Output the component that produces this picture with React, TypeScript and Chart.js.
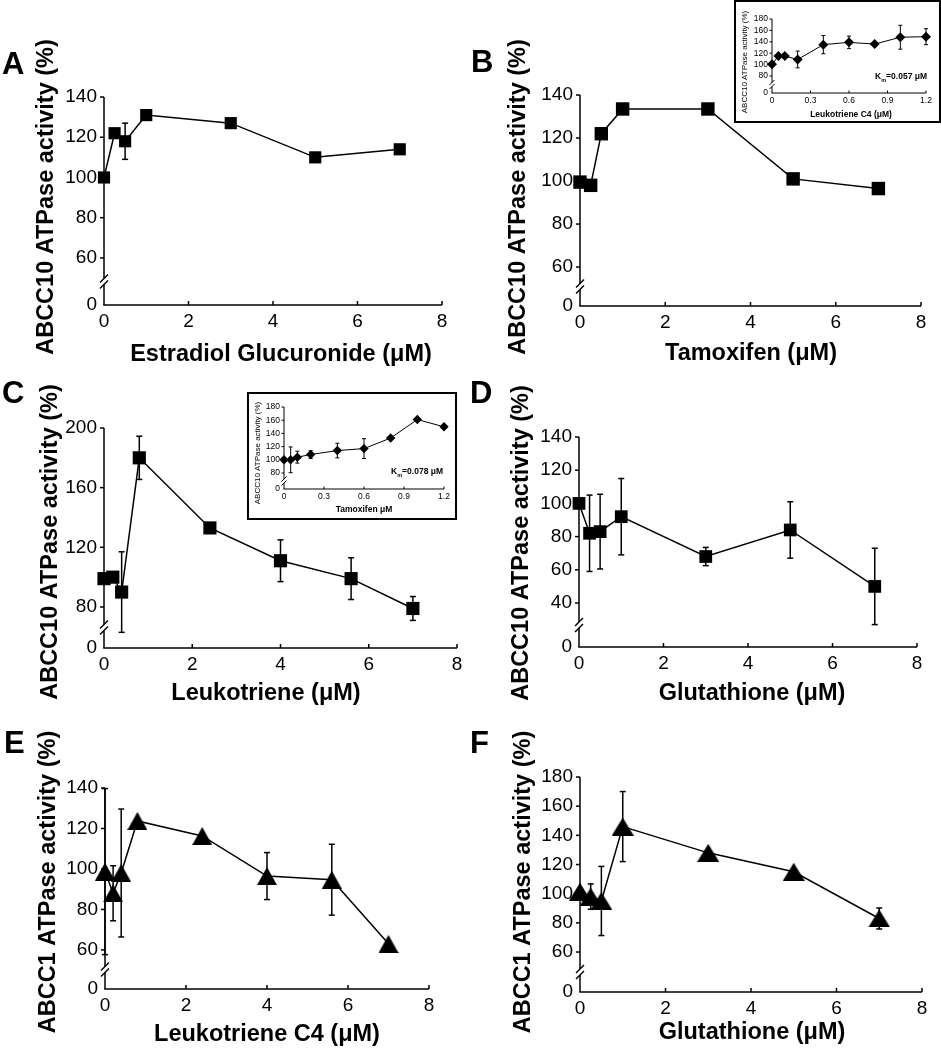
import React, { useEffect, useRef } from 'react';
import { Chart, registerables } from 'chart.js';

Chart.register(...registerables);

const FONT = '"Liberation Sans", Arial, Helvetica, sans-serif';

// ---------------- data ----------------
// A: ABCC10, estradiol glucuronide
const estradiolConc = [0, 0.25, 0.5, 1, 3, 5, 7];
const estradiolActivity = [100, 122, 118, 131, 127, 110, 114];
const estradiolErr = [0, 0, 9, 0, 0, 0, 0];

// B: ABCC10, tamoxifen
const tamoxifenConc = [0, 0.25, 0.5, 1, 3, 5, 7];
const tamoxifenActivity = [99.5, 98, 122, 133.5, 133.5, 101, 96.5];
const tamoxifenErr = [0, 0, 0, 0, 0, 0, 0];

// C: ABCC10, leukotriene
const leukotrieneConc = [0, 0.2, 0.4, 0.8, 2.4, 4, 5.6, 7];
const leukotrieneActivity = [99, 100, 90, 180, 133, 111, 99, 79];
const leukotrieneErr = [0, 0, 27, 14.5, 0, 14, 14, 8];

// D: ABCC10, glutathione
const glutathioneConc = [0, 0.25, 0.5, 1, 3, 5, 7];
const glutathioneActivity = [100, 82, 83, 92, 68, 84, 50];
const glutathioneErr = [0, 23, 22.5, 23, 5.5, 17, 23];

// E: ABCC1, leukotriene C4
const ltc4Conc = [0, 0.2, 0.4, 0.8, 2.4, 4, 5.6, 7];
const ltc4Activity = [98.7, 88, 98, 123.7, 116.3, 96.5, 94.7, 63];
const ltc4Err = [41, 13.6, 31.6, 0, 0, 11.6, 17.5, 0];

// F: ABCC1, glutathione
const gshConc = [0, 0.25, 0.5, 1, 3, 5, 7];
const gshActivity = [101.4, 98, 95, 146, 128, 115, 83];
const gshErr = [0, 8.7, 23.7, 24, 0, 0, 7.2];

// Inset in B: ABCC10, leukotriene C4 (low range)
const insetLtc4Conc = [0, 0.05, 0.1, 0.2, 0.4, 0.6, 0.8, 1.0, 1.2];
const insetLtc4Activity = [100.5, 115, 115, 109, 135, 139, 136, 148, 149];
const insetLtc4Err = [0, 0, 0, 14.7, 16, 11, 3, 21, 14];

// Inset in C: ABCC10, tamoxifen (low range)
const insetTamConc = [0, 0.05, 0.1, 0.2, 0.4, 0.6, 0.8, 1.0, 1.2];
const insetTamActivity = [100, 100, 104, 108, 114, 117, 133, 161, 150];
const insetTamErr = [0, 19.5, 9, 6, 11, 15, 0, 0, 0];

// tick values
const mainXTicks = [0, 2, 4, 6, 8];
const insetXTicks = [0, 0.3, 0.6, 0.9, 1.2];
const yTicks60to140 = [60, 80, 100, 120, 140];
const yTicks80to200 = [80, 120, 160, 200];
const yTicks40to140 = [40, 60, 80, 100, 120, 140];
const yTicks60to180 = [60, 80, 100, 120, 140, 160, 180];
const yTicks80to180 = [80, 100, 120, 140, 160, 180];

// ---------------- layout / style ----------------
type Box = { x: number; y: number; w: number; h: number };
type Area = { l: number; t: number; r: number; b: number };
type Txt = { text: string; x: number; y: number };
type Style = {
  tick: number; title: number; yTitle: number; yTitleBold: boolean; line: number; axis: number;
  tickLen: number; cap: number; brkW: number; brkH: number; brkGap: number; yPad: number; xPad: number;
};

const MAIN: Style = { tick: 19, title: 23.5, yTitle: 23.5, yTitleBold: true, line: 1.5, axis: 1.5, tickLen: 4, cap: 3, brkW: 4, brkH: 4, brkGap: 3, yPad: 7, xPad: 5 };
const INSET: Style = { tick: 8.5, title: 8.5, yTitle: 8, yTitleBold: false, line: 1, axis: 1, tickLen: 2.5, cap: 2, brkW: 2.5, brkH: 2.5, brkGap: 2, yPad: 4, xPad: 3 };

type Marker = { kind: 'rect' | 'rectRot' | 'tri'; r: number; w?: number; h?: number };
type Spec = {
  id: string; box: Box; area: Area; style: Style; inset?: boolean;
  xs: number[]; ys: number[]; es: number[];
  xTicks: number[]; yTicks: number[]; yMin: number; marker: Marker;
  letter?: Txt; yTitle: Txt; xTitle: Txt; km?: Txt;
};

const YT10 = 'ABCC10 ATPase activity (%)';
const YT1 = 'ABCC1 ATPase activity (%)';

const PANELS: Spec[] = [
  { id: 'A', box: { x: 0, y: 30, w: 470, h: 342 }, area: { l: 104, t: 97, r: 442, b: 305 }, style: MAIN,
    xs: estradiolConc, ys: estradiolActivity, es: estradiolErr, xTicks: mainXTicks, yTicks: yTicks60to140, yMin: 36.6,
    marker: { kind: 'rect', r: 8.6 }, letter: { text: 'A', x: 2, y: 74 },
    yTitle: { text: YT10, x: 53, y: 197 }, xTitle: { text: 'Estradiol Glucuronide (μM)', x: 281, y: 361 } },
  { id: 'B', box: { x: 470, y: 30, w: 471, h: 342 }, area: { l: 580, t: 95, r: 921, b: 306 }, style: MAIN,
    xs: tamoxifenConc, ys: tamoxifenActivity, es: tamoxifenErr, xTicks: mainXTicks, yTicks: yTicks60to140, yMin: 41.9,
    marker: { kind: 'rect', r: 9.5 }, letter: { text: 'B', x: 471, y: 72 },
    yTitle: { text: YT10, x: 525, y: 197 }, xTitle: { text: 'Tamoxifen (μM)', x: 751, y: 360 } },
  { id: 'C', box: { x: 0, y: 372, w: 470, h: 343 }, area: { l: 104, t: 428, r: 457, b: 648 }, style: MAIN,
    xs: leukotrieneConc, ys: leukotrieneActivity, es: leukotrieneErr, xTicks: mainXTicks, yTicks: yTicks80to200, yMin: 52.5,
    marker: { kind: 'rect', r: 9.3 }, letter: { text: 'C', x: 2, y: 403 },
    yTitle: { text: YT10, x: 57, y: 542 }, xTitle: { text: 'Leukotriene (μM)', x: 266, y: 700 } },
  { id: 'D', box: { x: 470, y: 372, w: 471, h: 343 }, area: { l: 579, t: 437, r: 917, b: 647 }, style: MAIN,
    xs: glutathioneConc, ys: glutathioneActivity, es: glutathioneErr, xTicks: mainXTicks, yTicks: yTicks40to140, yMin: 13.5,
    marker: { kind: 'rect', r: 9 }, letter: { text: 'D', x: 470, y: 403 },
    yTitle: { text: YT10, x: 528, y: 543 }, xTitle: { text: 'Glutathione (μM)', x: 752, y: 700 } },
  { id: 'E', box: { x: 0, y: 715, w: 470, h: 335 }, area: { l: 105, t: 788, r: 429, b: 989 }, style: MAIN,
    xs: ltc4Conc, ys: ltc4Activity, es: ltc4Err, xTicks: mainXTicks, yTicks: yTicks60to140, yMin: 40.7,
    marker: { kind: 'tri', r: 10, w: 20, h: 18 }, letter: { text: 'E', x: 4, y: 753 },
    yTitle: { text: YT1, x: 55, y: 882 }, xTitle: { text: 'Leukotriene C4 (μM)', x: 267, y: 1041 } },
  { id: 'F', box: { x: 470, y: 715, w: 471, h: 335 }, area: { l: 580, t: 777, r: 922, b: 992 }, style: MAIN,
    xs: gshConc, ys: gshActivity, es: gshErr, xTicks: mainXTicks, yTicks: yTicks60to180, yMin: 32.6,
    marker: { kind: 'tri', r: 11, w: 22, h: 18 }, letter: { text: 'F', x: 470, y: 753 },
    yTitle: { text: YT1, x: 530, y: 882 }, xTitle: { text: 'Glutathione (μM)', x: 752, y: 1039 } },
  { id: 'iB', inset: true, box: { x: 736, y: 2, w: 203, h: 119 }, area: { l: 772, t: 19, r: 926, b: 93 }, style: INSET,
    xs: insetLtc4Conc, ys: insetLtc4Activity, es: insetLtc4Err, xTicks: insetXTicks, yTicks: yTicks80to180, yMin: 50.2,
    marker: { kind: 'rectRot', r: 5 },
    yTitle: { text: YT10, x: 747, y: 62 }, xTitle: { text: 'Leukotriene C4 (μM)', x: 851, y: 117 },
    km: { text: '0.057 μM', x: 927, y: 79 } },
  { id: 'iC', inset: true, box: { x: 249, y: 394, w: 206, h: 124 }, area: { l: 284, t: 407, r: 444, b: 489 }, style: INSET,
    xs: insetTamConc, ys: insetTamActivity, es: insetTamErr, xTicks: insetXTicks, yTicks: yTicks80to180, yMin: 55.8,
    marker: { kind: 'rectRot', r: 4.7 },
    yTitle: { text: YT10, x: 260, y: 453 }, xTitle: { text: 'Tamoxifen μM', x: 364, y: 512 },
    km: { text: '0.078 μM', x: 443, y: 474 } },
];

function triangleImage(w: number, h: number): HTMLCanvasElement {
  const c = document.createElement('canvas');
  c.width = w;
  c.height = h;
  const g = c.getContext('2d')!;
  g.fillStyle = '#000';
  g.beginPath();
  g.moveTo(w / 2, 0);
  g.lineTo(w, h);
  g.lineTo(0, h);
  g.closePath();
  g.fill();
  return c;
}

function seg(ctx: CanvasRenderingContext2D, x1: number, y1: number, x2: number, y2: number) {
  ctx.beginPath();
  ctx.moveTo(x1, y1);
  ctx.lineTo(x2, y2);
  ctx.stroke();
}

function makeDecor(s: Spec) {
  const st = s.style;
  const ox = s.box.x;
  const oy = s.box.y;
  return {
    id: 'decor' + s.id,
    beforeDatasetsDraw(chart: any) {
      const ctx: CanvasRenderingContext2D = chart.ctx;
      const xsc = chart.scales.x;
      const ysc = chart.scales.y;
      ctx.save();
      ctx.strokeStyle = '#000';
      ctx.lineWidth = st.line;
      s.xs.forEach((xv, i) => {
        const e = s.es[i];
        if (!e) return;
        const px = xsc.getPixelForValue(xv);
        const pTop = ysc.getPixelForValue(s.ys[i] + e);
        const pBot = ysc.getPixelForValue(s.ys[i] - e);
        seg(ctx, px, pTop, px, pBot);
        seg(ctx, px - st.cap, pTop, px + st.cap, pTop);
        seg(ctx, px - st.cap, pBot, px + st.cap, pBot);
      });
      ctx.restore();
    },
    afterDraw(chart: any) {
      const ctx: CanvasRenderingContext2D = chart.ctx;
      const { left, right, top, bottom } = chart.chartArea;
      const xsc = chart.scales.x;
      const ysc = chart.scales.y;
      ctx.save();
      ctx.strokeStyle = '#000';
      ctx.lineWidth = st.axis;
      // axes
      seg(ctx, left - st.axis / 2, bottom, right, bottom);
      const yb = (bottom + ysc.getPixelForValue(s.yTicks[0])) / 2;
      seg(ctx, left, top, left, yb - st.brkGap);
      seg(ctx, left, yb + st.brkGap, left, bottom);
      for (const d of [-st.brkGap, st.brkGap]) {
        seg(ctx, left - st.brkW, yb + d + st.brkH, left + st.brkW, yb + d - st.brkH);
      }
      s.yTicks.forEach((v) => {
        const p = ysc.getPixelForValue(v);
        seg(ctx, left - st.tickLen, p, left, p);
      });
      s.xTicks.forEach((v) => {
        if (v === 0) return;
        const p = xsc.getPixelForValue(v);
        seg(ctx, p, bottom, p, bottom - st.tickLen);
      });
      // texts
      ctx.fillStyle = '#000';
      ctx.textBaseline = 'alphabetic';
      ctx.textAlign = 'center';
      ctx.font = `bold ${st.title}px ${FONT}`;
      ctx.fillText(s.xTitle.text, s.xTitle.x - ox, s.xTitle.y - oy);
      ctx.save();
      ctx.translate(s.yTitle.x - ox, s.yTitle.y - oy);
      ctx.rotate(-Math.PI / 2);
      ctx.font = `${st.yTitleBold ? 'bold ' : ''}${st.yTitle}px ${FONT}`;
      ctx.fillText(s.yTitle.text, 0, 0);
      ctx.restore();
      if (s.letter) {
        ctx.textAlign = 'left';
        ctx.font = `bold 31px ${FONT}`;
        ctx.fillText(s.letter.text, s.letter.x - ox, s.letter.y - oy);
      }
      if (s.km) {
        const f = st.title;
        const big = `bold ${f}px ${FONT}`;
        const small = `bold ${f * 0.65}px ${FONT}`;
        ctx.textAlign = 'left';
        ctx.font = big;
        const wK = ctx.measureText('K').width;
        const rest = '=' + s.km.text;
        const wR = ctx.measureText(rest).width;
        ctx.font = small;
        const wm = ctx.measureText('m').width;
        let x = s.km.x - ox - (wK + wm + wR);
        const y = s.km.y - oy;
        ctx.font = big;
        ctx.fillText('K', x, y);
        x += wK;
        ctx.font = small;
        ctx.fillText('m', x, y + f * 0.3);
        x += wm;
        ctx.font = big;
        ctx.fillText(rest, x, y);
      }
      ctx.restore();
    },
  };
}

function buildChart(canvas: HTMLCanvasElement, s: Spec) {
  const st = s.style;
  const padTop = s.area.t - s.box.y;
  const padRight = s.box.x + s.box.w - s.area.r;
  const yW = s.area.l - s.box.x;
  const xH = s.box.y + s.box.h - s.area.b;
  const yMax = s.yTicks[s.yTicks.length - 1];
  const xMax = s.xTicks[s.xTicks.length - 1];
  let pointStyle: any = s.marker.kind;
  if (s.marker.kind === 'tri') pointStyle = triangleImage(s.marker.w!, s.marker.h!);
  const tickFont = { family: FONT, size: st.tick };
  return new Chart(canvas, {
    type: 'line',
    data: {
      datasets: [
        {
          data: s.xs.map((x, i) => ({ x, y: s.ys[i] })),
          borderColor: '#000',
          backgroundColor: '#000',
          borderWidth: st.line,
          pointStyle,
          pointRadius: s.marker.r,
          pointBackgroundColor: '#000',
          pointBorderColor: '#000',
          pointBorderWidth: 0,
          tension: 0,
          fill: false,
          clip: false,
        } as any,
      ],
    },
    options: {
      responsive: false,
      animation: false,
      devicePixelRatio: 1,
      events: [],
      layout: { padding: { top: padTop, right: padRight, left: 0, bottom: 0 } },
      plugins: { legend: { display: false }, tooltip: { enabled: false } },
      scales: {
        x: {
          type: 'linear',
          min: 0,
          max: xMax,
          grid: { display: false, drawTicks: false },
          border: { display: false },
          afterBuildTicks: (sc: any) => {
            sc.ticks = s.xTicks.map((v) => ({ value: v }));
          },
          afterFit: (sc: any) => {
            sc.height = xH;
          },
          ticks: {
            color: '#000',
            font: tickFont,
            padding: st.xPad,
            maxRotation: 0,
            minRotation: 0,
            autoSkip: false,
            callback: (v: any) => String(v),
          },
        },
        y: {
          type: 'linear',
          min: s.yMin,
          max: yMax,
          grid: { display: false, drawTicks: false },
          border: { display: false },
          afterBuildTicks: (sc: any) => {
            sc.ticks = [s.yMin, ...s.yTicks].map((v) => ({ value: v }));
          },
          afterFit: (sc: any) => {
            sc.width = yW;
          },
          ticks: {
            color: '#000',
            font: tickFont,
            padding: st.yPad,
            autoSkip: false,
            callback: (v: any) => (v === s.yMin ? '0' : String(v)),
          },
        },
      },
    } as any,
    plugins: [makeDecor(s) as any],
  });
}

function Panel({ spec }: { spec: Spec }) {
  const ref = useRef<HTMLCanvasElement | null>(null);
  useEffect(() => {
    const chart = buildChart(ref.current!, spec);
    return () => chart.destroy();
  }, [spec]);
  const { box } = spec;
  const canvas = (
    <canvas ref={ref} width={box.w} height={box.h} style={{ display: 'block', width: box.w, height: box.h }} />
  );
  if (spec.inset) {
    return (
      <div
        style={{
          position: 'absolute',
          left: box.x - 2,
          top: box.y - 2,
          width: box.w,
          height: box.h,
          border: '2px solid #000',
          background: '#fff',
          zIndex: 2,
        }}
      >
        {canvas}
      </div>
    );
  }
  return (
    <div style={{ position: 'absolute', left: box.x, top: box.y, width: box.w, height: box.h, zIndex: 1 }}>
      {canvas}
    </div>
  );
}

export default function App() {
  return (
    <div style={{ position: 'absolute', left: 0, top: 0, width: 941, height: 1050, background: '#fff' }}>
      {PANELS.map((s) => (
        <Panel key={s.id} spec={s} />
      ))}
    </div>
  );
}
